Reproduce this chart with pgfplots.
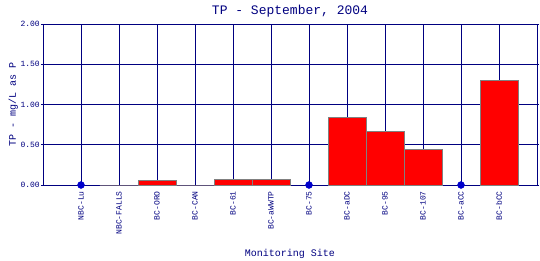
\documentclass[border=0pt]{standalone}
\usepackage{pgfplots}
\pgfplotsset{compat=1.18}
\usepackage{fontspec}
\setmainfont{Liberation Mono}
\definecolor{navy}{RGB}{0,0,128}
\definecolor{dotblue}{RGB}{0,0,204}
\begin{document}
\begin{tikzpicture}[x=1pt,y=1pt]
\useasboundingbox (-43,-75) rectangle (497,185);
\begin{axis}[
  at={(0,0)}, anchor=south west,
  scale only axis, width=494pt, height=161pt,
  xmin=-1, xmax=12, ymin=0, ymax=2,
  xtick={0,...,11},
  xticklabels={NBC-Lu,NBC-FALLS,BC-ORO,BC-CAN,BC-61,BC-aWWTP,BC-75,BC-aDC,BC-95,BC-107,BC-aCC,BC-bCC},
  x tick label style={rotate=90, anchor=east, font=\fontsize{8}{8}\selectfont, text=navy, inner sep=1pt, xshift=-3pt},
  ytick={0,0.5,1,1.5,2},
  yticklabel style={/pgf/number format/fixed, /pgf/number format/fixed zerofill, /pgf/number format/precision=2, font=\fontsize{8}{8}\selectfont, text=navy, inner sep=1pt},
  /pgf/number format/assume math mode=true,
  xtick style={draw=none},
  ytick style={navy, line width=0.8pt},
  tick align=outside, major tick length=2pt,
  ymajorgrids, xmajorgrids,
  major grid style={navy, line width=0.8pt},
  axis line style={navy, line width=0.8pt},
  title={TP - September, 2004},
  title style={font=\fontsize{13}{13}\selectfont, text=navy, at={(0.5,1)}, anchor=base, yshift=4pt},
  xlabel={Monitoring Site},
  xlabel style={font=\fontsize{10}{10}\selectfont, text=navy, yshift=-10pt},
  ylabel={TP - mg/L as P},
  ylabel style={font=\fontsize{10}{10}\selectfont, text=navy, yshift=-2pt},
  clip=false,
]
\addplot[ybar, bar width=1, fill=red, draw=gray, line width=0.8pt] coordinates {
  (1,0) (2,0.06) (3,0) (4,0.07) (5,0.07) (7,0.84) (8,0.665) (9,0.445) (11,1.30)
};
\addplot[only marks, mark=*, mark size=3.5pt, mark options={fill=dotblue, draw=dotblue}] coordinates {
  (0,0) (6,0) (10,0)
};
\end{axis}
\end{tikzpicture}
\end{document}
